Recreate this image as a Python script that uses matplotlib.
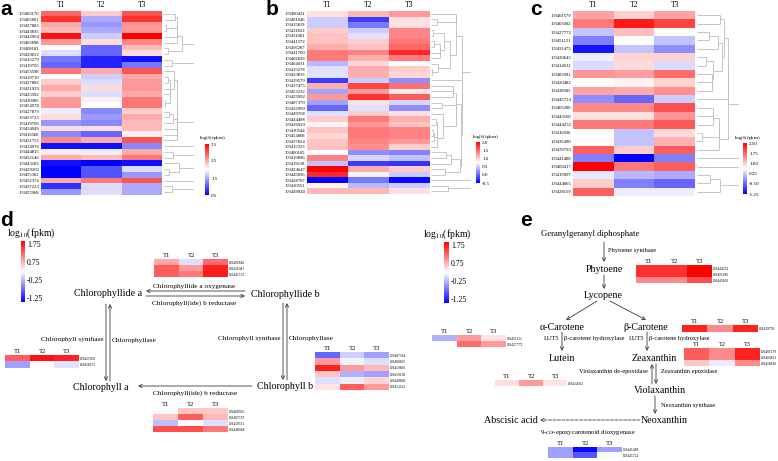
import numpy as np
import matplotlib
matplotlib.use('Agg')
import matplotlib.pyplot as plt
from matplotlib.collections import LineCollection
from matplotlib.colors import Normalize
import matplotlib.cm as cm

plt.rcParams['font.family'] = ['Liberation Serif', 'DejaVu Serif']
plt.rcParams['mathtext.fontset'] = 'stix'

W, H = 778, 461
treat = ['T1', 'T2', 'T3']

# ---- panel a : log10(fpkm) per gene (T1, T2, T3)
a_ids = ['103403170', '103405801', '103427883', '103443835', '103442964', '103405898',
         '103408183', '103429652', '103415279', '103419705', '103453598', '103419710',
         '103427882', '103421929', '103425592', '103430085', '103454978', '103427879',
         '103453723', '103419706', '103454049', '103416580', '103431753', '103434976',
         '103444815', '103452146', '103443183', '103429202', '103455362', '103452374',
         '103437223', '103455968']
a_vals = [[2.9, 2.3, 3.0], [3.2, 1.5, 3.2], [2.5, 1.4, 2.6], [2.4, 1.5, 2.6],
          [3.4, 1.7, 3.5], [2.6, 2.2, 2.7], [2.0, 1.1, 2.4], [1.8, 1.1, 2.2],
          [1.2, 0.7, 0.6], [1.1, 0.7, 1.2], [2.8, 2.5, 3.0], [2.0, 1.7, 2.5],
          [2.3, 1.8, 2.6], [2.5, 2.2, 2.6], [2.3, 1.8, 2.5], [2.6, 2.1, 2.8],
          [2.6, 2.0, 2.8], [1.9, 1.3, 2.3], [2.2, 1.4, 2.5], [1.4, 1.3, 2.4],
          [2.2, 2.2, 2.4], [1.3, 1.1, 2.1], [2.7, 2.5, 3.0], [0.6, 0.6, 1.3],
          [2.1, 1.9, 2.5], [2.5, 2.4, 2.8], [0.6, 0.5, 0.6], [0.5, 1.0, 1.8],
          [0.5, 1.0, 1.4], [2.5, 2.8, 3.0], [0.8, 1.8, 1.5], [1.4, 1.8, 1.5]]
a_ticks = [3.5, 2.5, 1.5, 0.5]

# ---- panel b
b_ids = ['103400421', '103401846', '103415819', '103431822', '103431681', '103441572',
         '103456287', '103441700', '103402826', '103404031', '103415278', '103423833',
         '103419579', '103437475', '103453222', '103425992', '103407379', '103432999',
         '103449768', '103444488', '103426929', '103430544', '103454808', '103437824',
         '103415323', '103400105', '103419896', '103419118', '103424647', '103445856',
         '103428767', '103410551', '103449940']
b_vals = [[0.9, 1.1, 1.25], [0.5, -0.2, 0.9], [0.5, 0.1, 0.9], [1.0, 0.5, 1.35],
          [1.05, 0.6, 1.35], [1.05, 1.0, 1.4], [1.15, 1.05, 1.5], [1.4, 1.35, 1.8],
          [1.4, 1.15, 1.4], [0.4, 0.95, 0.75], [0.6, 1.15, 1.0], [0.6, 1.15, 0.95],
          [-0.2, 0.5, 0.2], [1.15, 1.65, 1.45], [0.3, 1.25, 0.85], [1.25, 1.75, 1.55],
          [0.3, 0.9, 0.55], [0.0, 0.6, 0.2], [0.6, 1.0, 0.9], [1.0, 1.4, 1.15],
          [0.8, 1.25, 1.05], [1.05, 1.4, 1.35], [0.95, 1.4, 1.35], [1.05, 1.35, 1.25],
          [1.05, 1.3, 1.0], [0.75, 0.2, 0.15], [1.35, 0.55, 0.45], [0.45, -0.2, -0.25],
          [2.0, 1.15, 1.0], [1.8, 0.7, 0.5], [-0.5, 0.1, -0.45], [0.8, 0.4, 0.5],
          [1.1, 1.1, 0.9]]
b_ticks = [2.0, 1.5, 1.0, 0.5, 0.0, -0.5]

# ---- panel c
c_ids = ['103401579', '103403002', '103427772', '103451121', '103431475', '103420642',
         '103414012', '103483091', '103420482', '103438585', '103445724', '103405286',
         '103443160', '103444252', '103416036', '103436490', '103439793', '103441488',
         '103409417', '103419997', '103444865', '103428159']
c_vals = [[1.3, 0.95, 1.3], [1.6, 2.3, 2.0], [0.2, 1.1, 0.65], [-0.3, 0.65, 0.2],
          [-1.1, 0.2, -0.2], [0.5, 0.95, 0.95], [0.35, 0.9, 0.35], [1.4, 1.35, 1.7],
          [0.65, 0.7, 0.95], [1.3, 1.25, 1.45], [-0.2, -0.5, 0.25], [1.5, 1.5, 1.9],
          [0.85, 0.85, 1.4], [1.6, 1.6, 1.85], [0.65, 0.2, 0.9], [0.65, 0.2, 1.2],
          [1.8, 1.0, 1.8], [-0.3, -1.25, -0.3], [2.5, 1.6, 1.8], [0.45, 0.1, 0.0],
          [1.0, -0.3, -0.5], [1.8, 0.5, 0.5]]
c_ticks = [2.5, 1.75, 1.0, 0.25, -0.5, -1.25]

# ---- panel d (chlorophyll cycle)
d_ticks = [1.75, 0.75, -0.25, -1.25]
cao_ids = ['103401846', '103431681', '103441572']
cao_vals = [[0.8, 0.0, 1.2], [1.3, 0.9, 1.7], [1.3, 1.1, 1.75]]
chlg_ids = ['103425992', '103456672']
chlg_vals = [[1.3, 1.8, 1.7], [-0.4, 0.25, 0.05]]
cbr_ids = ['103480502', '103407379', '103418531', '103448948']
cbr_vals = [[0.2, 0.6, 0.6], [0.6, 1.3, 0.7], [-0.2, 0.2, 0.0], [1.4, 1.4, 1.1]]
chlb_ids = ['103487544', '103480105', '103419896', '103419118', '103449843', '103453222']
chlb_vals = [[-0.8, -0.1, -0.4], [0.9, 0.15, 0.0], [1.7, 0.9, 0.7],
             [0.6, -0.3, -0.4], [0.0, 0.1, 0.5], [0.4, 1.3, 0.9]]

# ---- panel e (carotenoid pathway)
psy_ids = ['103444252', '103405286', '103443160']
psy_vals = [[1.6, 1.6, 1.9], [1.6, 1.6, 1.9], [1.0, 1.0, 1.4]]
lut_ids = ['103451121', '103427772']
lut_vals = [[-0.3, 0.9, 0.4], [np.nan, 1.2, 0.9]]
bch_ids = ['103439793']
bch_vals = [[1.7, 1.0, 1.7]]
zep_ids = ['103401379', '103403891', '103416836']
zep_vals = [[1.3, 1.0, 1.7], [1.3, 1.0, 1.7], [0.6, 0.1, 1.0]]
vde_ids = ['103414012']
vde_vals = [[0.45, 0.9, 0.4]]
nced_ids = ['103441488', '103445724']
nced_vals = [[-0.4, -1.4, -0.4], [-0.4, -0.9, 0.2]]

CMAP = 'bwr'
D_RANGE = (-1.47, 1.92)

fig = plt.figure(figsize=(W / 100, H / 100), dpi=100)

ov = fig.add_axes([0, 0, 1, 1])
ov.set_xlim(0, W)
ov.set_ylim(H, 0)
ov.axis('off')


def px_axes(x0, y0, x1, y1):
  return fig.add_axes([x0 / W, 1 - y1 / H, (x1 - x0) / W, (y1 - y0) / H])


# dendrogram: average linkage, merges restricted to neighbouring rows
def adjacent_tree(v):
  clusters = [{'pos': float(i), 'h': 0.0, 'm': [i]} for i in range(len(v))]
  segs = []
  h = 0.0
  while len(clusters) > 1:
    best = None
    for k in range(len(clusters) - 1):
      a, b = clusters[k], clusters[k + 1]
      d = np.mean([np.linalg.norm(v[i] - v[j]) for i in a['m'] for j in b['m']])
      if best is None or d < best[0]:
        best = (d, k)
    d, k = best
    a, b = clusters[k], clusters[k + 1]
    h = max(d, a['h'], b['h'])
    segs += [[(a['h'], a['pos']), (h, a['pos'])],
             [(b['h'], b['pos']), (h, b['pos'])],
             [(h, a['pos']), (h, b['pos'])]]
    clusters[k:k + 2] = [{'pos': (a['pos'] + b['pos']) / 2, 'h': h, 'm': a['m'] + b['m']}]
  return segs, h


def colorbar(box, vmin, vmax, ticks, fmt, size, title_xy, title_size):
  cax = px_axes(*box)
  cb = fig.colorbar(cm.ScalarMappable(Normalize(vmin, vmax), CMAP), cax=cax, ticks=ticks)
  cb.outline.set_visible(False)
  cb.ax.tick_params(labelsize=size, length=0, pad=1.5)
  cb.ax.set_yticklabels([fmt % t for t in ticks])
  ov.text(title_xy[0], title_xy[1], r'log$_{10}$(fpkm)', fontsize=title_size,
          ha='center', va='center')


def big_heatmap(box, ids, vals, vmin, vmax, dendro_w):
  x0, y0, x1, y1 = box
  v = np.array(vals)
  ax = px_axes(x0, y0, x1, y1)
  ax.imshow(v, cmap=CMAP, vmin=vmin, vmax=vmax, aspect='auto', interpolation='nearest')
  ax.set_yticks(range(len(ids)))
  ax.set_yticklabels(ids, fontsize=3.3)
  ax.xaxis.tick_top()
  ax.set_xticks(range(3))
  ax.set_xticklabels(treat, fontsize=5.5)
  ax.tick_params(length=0, pad=1.2)
  for s in ax.spines.values():
    s.set_visible(False)
  dax = px_axes(x1 + 2, y0, x1 + 2 + dendro_w, y1)
  segs, top = adjacent_tree(v)
  dax.add_collection(LineCollection(segs, colors='#bdbdbd', linewidths=0.6))
  dax.set_xlim(0, top * 1.01)
  dax.set_ylim(len(ids) - 0.5, -0.5)
  dax.axis('off')


def small_heatmap(box, ids, vals, head_size=4.8):
  x0, y0, x1, y1 = box
  v = np.ma.masked_invalid(np.array(vals, float))
  ax = px_axes(x0, y0, x1, y1)
  ax.imshow(v, cmap=CMAP, vmin=D_RANGE[0], vmax=D_RANGE[1], aspect='auto',
            interpolation='nearest')
  ax.yaxis.tick_right()
  ax.set_yticks(range(len(ids)))
  ax.set_yticklabels(ids, fontsize=2.6)
  ax.xaxis.tick_top()
  ax.set_xticks(range(3))
  ax.set_xticklabels(treat, fontsize=head_size)
  ax.tick_params(length=0, pad=0.8)
  for s in ax.spines.values():
    s.set_visible(False)


def arrow(x0, y0, x1, y1, ls='-'):
  ov.annotate('', xy=(x1, y1), xytext=(x0, y0),
              arrowprops=dict(arrowstyle='->', lw=0.6, color='#3a3a3a', linestyle=ls,
                              shrinkA=0, shrinkB=0, mutation_scale=6))


def label(x, y, s, size=7.2, ha='center'):
  ov.text(x, y, s, fontsize=size, ha=ha, va='center')


# panel letters
for x, y, s in [(0, 15, 'a'), (266, 15, 'b'), (530, 15, 'c'), (0, 226, 'd'), (520, 226, 'e')]:
  ov.text(x, y, s, fontsize=15, fontweight='bold', family='Liberation Sans',
          ha='left', va='baseline')

# top row heatmaps
big_heatmap((41, 11, 162, 195), a_ids, a_vals, 0.5, 3.5, 30)
colorbar((205, 144, 209, 195), 0.5, 3.5, a_ticks, '%.1f', 3.6, (212, 138), 3.8)

big_heatmap((307, 11, 429, 194), b_ids, b_vals, -0.5, 2.0, 40)
colorbar((476, 142, 480, 183), -0.5, 2.0, b_ticks, '%.1f', 3.6, (485, 137), 3.8)

big_heatmap((573, 11, 695, 196), c_ids, c_vals, -1.25, 2.5, 42)
colorbar((743, 143, 747, 194), -1.25, 2.5, c_ticks, '%.2f', 3.6, (747, 138), 3.8)

# ---- panel d pathway
colorbar((21, 241, 25, 302), D_RANGE[0], D_RANGE[1], d_ticks, '%.2f', 5.6, (31, 233), 7)
label(108, 293, 'Chlorophyllide a')
label(285, 294, 'Chlorophyllide b')
label(101, 387, 'Chlorophyll a')
label(285, 386, 'Chlorophyll b')
arrow(245, 291, 146, 291)
arrow(146, 296, 245, 296)
label(194, 286, 'Chlorophyllide a oxygenase', 5.2)
label(194, 303, 'Chlorophyll(ide) b reductase', 5.2)
arrow(106, 304, 106, 381)
arrow(110, 381, 110, 304)
label(104, 339, 'Chlorophyll synthase', 5.2, 'right')
label(112, 340, 'Chlorophyllase', 5.2, 'left')
arrow(283, 303, 283, 380)
arrow(287, 380, 287, 303)
label(281, 338, 'Chlorophyll synthase', 5.2, 'right')
label(289, 338, 'Chlorophyllase', 5.2, 'left')
arrow(252, 386, 138, 386)
label(195, 393, 'Chlorophyll(ide) b reductase', 5.2)
small_heatmap((154, 259, 228, 277), cao_ids, cao_vals)
small_heatmap((5, 355, 79, 368), chlg_ids, chlg_vals)
small_heatmap((153, 408, 228, 432), cbr_ids, cbr_vals)
small_heatmap((315, 352, 389, 390), chlb_ids, chlb_vals)

# ---- panel e pathway
colorbar((444, 242, 449, 303), D_RANGE[0], D_RANGE[1], d_ticks, '%.2f', 5.6, (447, 234), 7)
label(590, 234, 'Geranylgeranyl diphosphate', 6.2)
arrow(604, 242, 604, 262)
label(608, 250, 'Phytoene synthase', 4.6, 'left')
label(604, 269, 'Phytoene')
arrow(604, 275, 604, 289)
label(603, 295, 'Lycopene')
arrow(597, 301, 566, 320)
arrow(610, 301, 646, 320)
label(562, 327, '\u03b1-Carotene')
label(646, 327, '\u03b2-Carotene')
label(559, 338, 'LUT5', 4.6, 'right')
label(564, 338, '\u03b2-carotene hydroxylase', 4.6, 'left')
arrow(562, 332, 562, 351)
label(562, 358, 'Lutein')
label(644, 338, 'LUT5', 4.6, 'right')
label(649, 338, '\u03b2-carotene hydroxylase', 4.6, 'left')
arrow(647, 332, 647, 351)
label(654, 358, 'Zeaxanthin')
arrow(652, 384, 652, 364)
arrow(656, 364, 656, 384)
label(648, 371, 'Violaxanthin de-epoxidase', 4.6, 'right')
label(661, 371, 'Zeaxanthin epoxidase', 4.6, 'left')
label(660, 390, 'Violaxanthin')
arrow(655, 396, 655, 414)
label(661, 405, 'Neoxanthin synthase', 4.6, 'left')
label(664, 420, 'Neoxanthin')
arrow(640, 420, 540, 420, ls='--')
label(511, 420, 'Abscisic acid')
label(588, 432, '9-$cis$-epoxycarotenoid dioxygenase', 4.8)
small_heatmap((636, 265, 712, 283), psy_ids, psy_vals)
small_heatmap((432, 335, 506, 347), lut_ids, lut_vals)
small_heatmap((682, 325, 758, 332), bch_ids, bch_vals)
small_heatmap((684, 348, 760, 366), zep_ids, zep_vals, 4.4)
small_heatmap((495, 380, 567, 386), vde_ids, vde_vals)
small_heatmap((548, 447, 622, 458), nced_ids, nced_vals)

fig.savefig('out.png', dpi=100)
